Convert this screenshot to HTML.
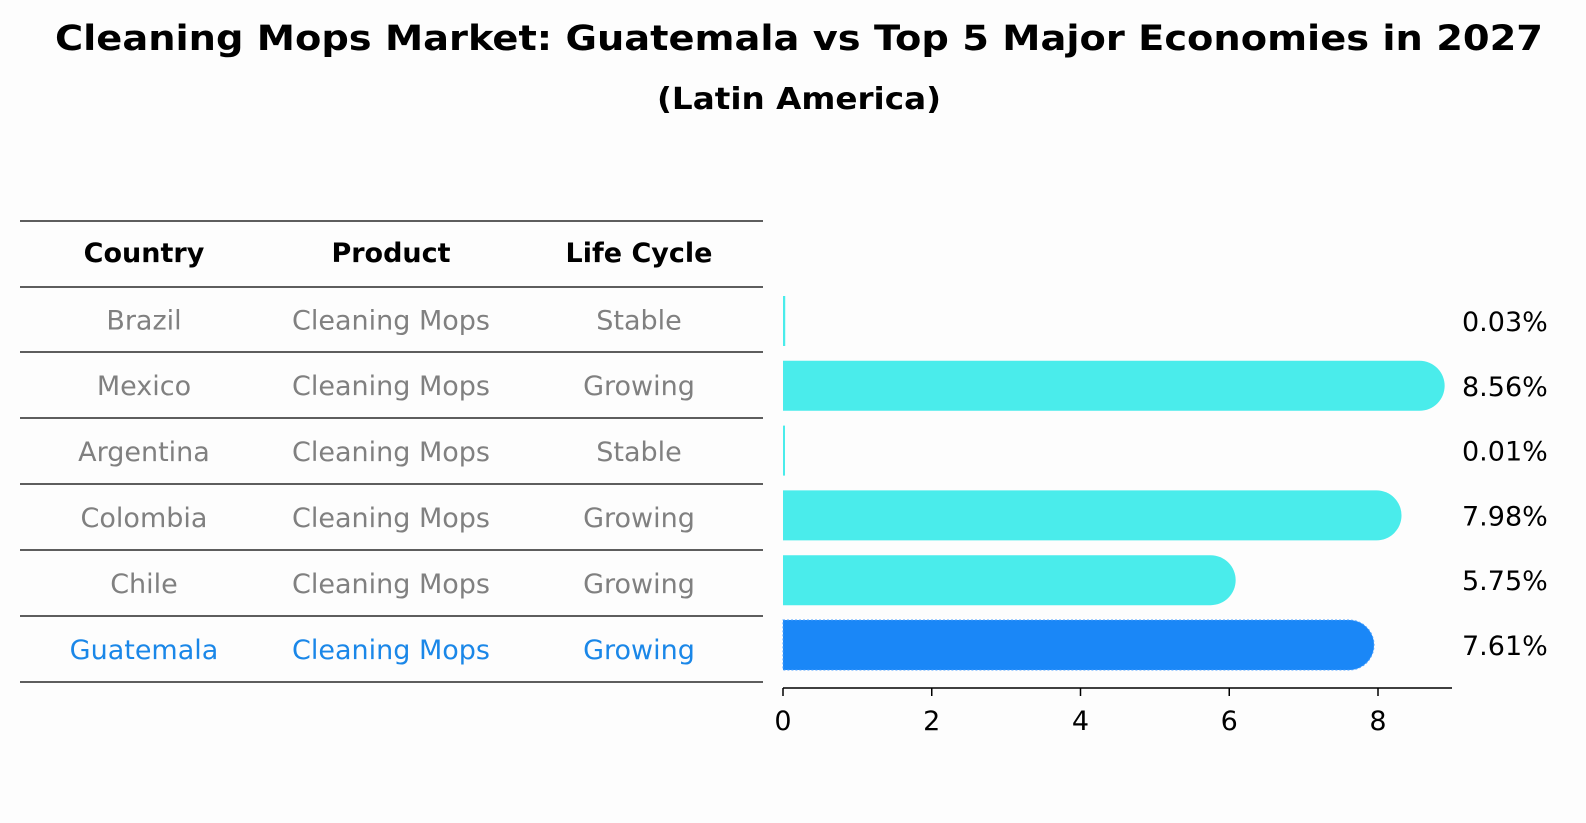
<!DOCTYPE html>
<html><head><meta charset="utf-8"><style>
body{margin:0;background:#fdfdfd;font-family:"Liberation Sans","DejaVu Sans",sans-serif;}
#c{position:relative;width:1586px;height:823px;overflow:hidden;}
</style></head><body>
<div id="c">
<svg id="s" width="1586" height="823" style="font-family:'DejaVu Sans','Liberation Sans',sans-serif">
<text x="799" y="50" text-anchor="middle" font-size="35" font-weight="bold" textLength="1488" lengthAdjust="spacingAndGlyphs">Cleaning Mops Market: Guatemala vs Top 5 Major Economies in 2027</text>
<text x="799" y="109" text-anchor="middle" font-size="30" font-weight="bold" textLength="284" lengthAdjust="spacingAndGlyphs">(Latin America)</text>
<g id="tbl"></g>
<g id="bars"></g>
<g id="axis"></g>
</svg>
</div>
<script>
const countries=["Brazil","Mexico","Argentina","Colombia","Chile","Guatemala"];
const products=["Cleaning Mops","Cleaning Mops","Cleaning Mops","Cleaning Mops","Cleaning Mops","Cleaning Mops"];
const lifecycle=["Stable","Growing","Stable","Growing","Growing","Growing"];
const values=[0.03,8.56,0.01,7.98,5.75,7.61];
const ticks=[0,2,4,6,8];
const NS="http://www.w3.org/2000/svg";
function mk(t,a,p){const e=document.createElementNS(NS,t);for(const k in a)e.setAttribute(k,a[k]);p.appendChild(e);return e;}
const x0=783,xs=(1378-783)/8;
function X(v){return x0+v*xs;}
const FS=27;
const tbl=document.getElementById('tbl');
const lineY=[221,287,352,418,484,550,616,682];
lineY.forEach((y,i)=>{const l=mk('line',{x1:20,x2:763,y1:y,y2:y,stroke:'#000','stroke-width':1.2},tbl);

});
const cx=[144,391,639];
["Country","Product","Life Cycle"].forEach((h,i)=>{const t=mk('text',{x:cx[i],y:262,'text-anchor':'middle','font-size':FS,'font-weight':'bold'},tbl);t.textContent=h;

});
countries.forEach((c,i)=>{const y=(lineY[i+1]+lineY[i+2])/2+10;const col=i===5?'#1a87e8':'#808080';
[c,products[i],lifecycle[i]].forEach((v,j)=>{const t=mk('text',{x:cx[j],y:y,'text-anchor':'middle','font-size':FS,fill:col},tbl);t.textContent=v;

});});
const bars=document.getElementById('bars');
const h=50;
values.forEach((v,i)=>{const yc=321+i*64.8;const w=v*xs;const r=h/2;const col=i===5?'#1a87f7':'#4aeceb';
let d;
if(w>r){d=`M${x0},${yc-r}H${x0+w}A${r},${r} 0 0 1 ${x0+w},${yc+r}H${x0}Z`;}
else{const ww=Math.max(w,2);d=`M${x0},${yc-r}H${x0+ww}V${yc+r}H${x0}Z`;}
const p=mk('path',{d:d,fill:col},bars);
if(i===5){p.setAttribute('stroke','#4aa0ff');p.setAttribute('stroke-dasharray','2,2');p.setAttribute('stroke-width','1');}


const t=mk('text',{x:1462,y:yc+10,'font-size':FS},bars);t.textContent=v.toFixed(2)+'%';

});
const ax=document.getElementById('axis');
mk('line',{x1:x0,x2:1452,y1:688,y2:688,stroke:'#000','stroke-width':1.5},ax);
ticks.forEach(tv=>{mk('line',{x1:X(tv),x2:X(tv),y1:688,y2:696,stroke:'#000','stroke-width':1.5},ax);
const t=mk('text',{x:X(tv),y:730,'text-anchor':'middle','font-size':FS},ax);t.textContent=tv;

});
</script>
</body></html>
